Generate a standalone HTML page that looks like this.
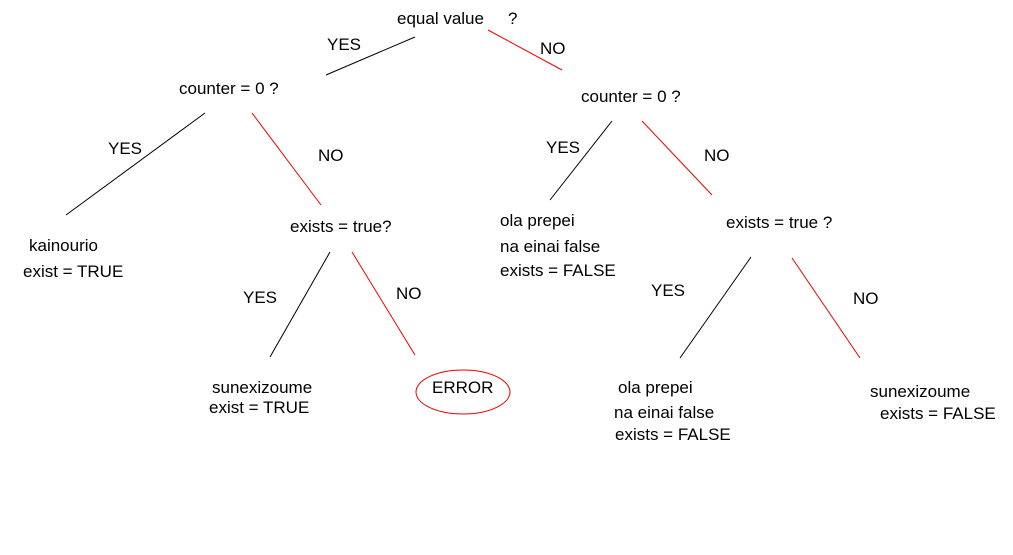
<!DOCTYPE html>
<html><head><meta charset="utf-8"><style>
html,body{margin:0;padding:0;background:#fff;}
svg text{font-family:"Liberation Sans",sans-serif;font-size:17px;fill:#000;}
</style></head><body>
<svg width="1013" height="550" xmlns="http://www.w3.org/2000/svg">
<g stroke-width="1">
<line x1="415" y1="37" x2="326" y2="75" stroke="#000"/>
<line x1="488" y1="30" x2="562" y2="70" stroke="#e00"/>
<line x1="205" y1="113" x2="66" y2="215" stroke="#000"/>
<line x1="252" y1="113" x2="321" y2="205" stroke="#e00"/>
<line x1="612" y1="121" x2="550" y2="200" stroke="#000"/>
<line x1="642" y1="121" x2="712" y2="195" stroke="#e00"/>
<line x1="330" y1="252" x2="270" y2="357" stroke="#000"/>
<line x1="352" y1="252" x2="415" y2="355" stroke="#e00"/>
<line x1="751" y1="257" x2="680" y2="358" stroke="#000"/>
<line x1="792" y1="258" x2="860" y2="358" stroke="#e00"/>
<ellipse cx="463" cy="392" rx="47" ry="22" fill="none" stroke="#e00"/>
</g>
<text x="397" y="24">equal value</text><text x="508" y="24">?</text>
<text x="327" y="50">YES</text><text x="540" y="54">NO</text>
<text x="179" y="94">counter = 0 ?</text>
<text x="581" y="102">counter = 0 ?</text>
<text x="108" y="154">YES</text><text x="318" y="161">NO</text>
<text x="546" y="153">YES</text><text x="704" y="161">NO</text>
<text x="290" y="232">exists = true?</text>
<text x="726" y="228">exists = true ?</text>
<text x="29" y="251">kainourio</text><text x="23" y="277">exist = TRUE</text>
<text x="500" y="226">ola prepei</text><text x="500" y="252">na einai false</text><text x="500" y="276">exists = FALSE</text>
<text x="243" y="303">YES</text><text x="396" y="299">NO</text>
<text x="651" y="296">YES</text><text x="853" y="304">NO</text>
<text x="212" y="393">sunexizoume</text><text x="209" y="413">exist = TRUE</text>
<text x="432" y="393">ERROR</text>
<text x="618" y="393">ola prepei</text><text x="614" y="418">na einai false</text><text x="615" y="440">exists = FALSE</text>
<text x="870" y="397">sunexizoume</text><text x="880" y="419">exists = FALSE</text>
</svg>
</body></html>
